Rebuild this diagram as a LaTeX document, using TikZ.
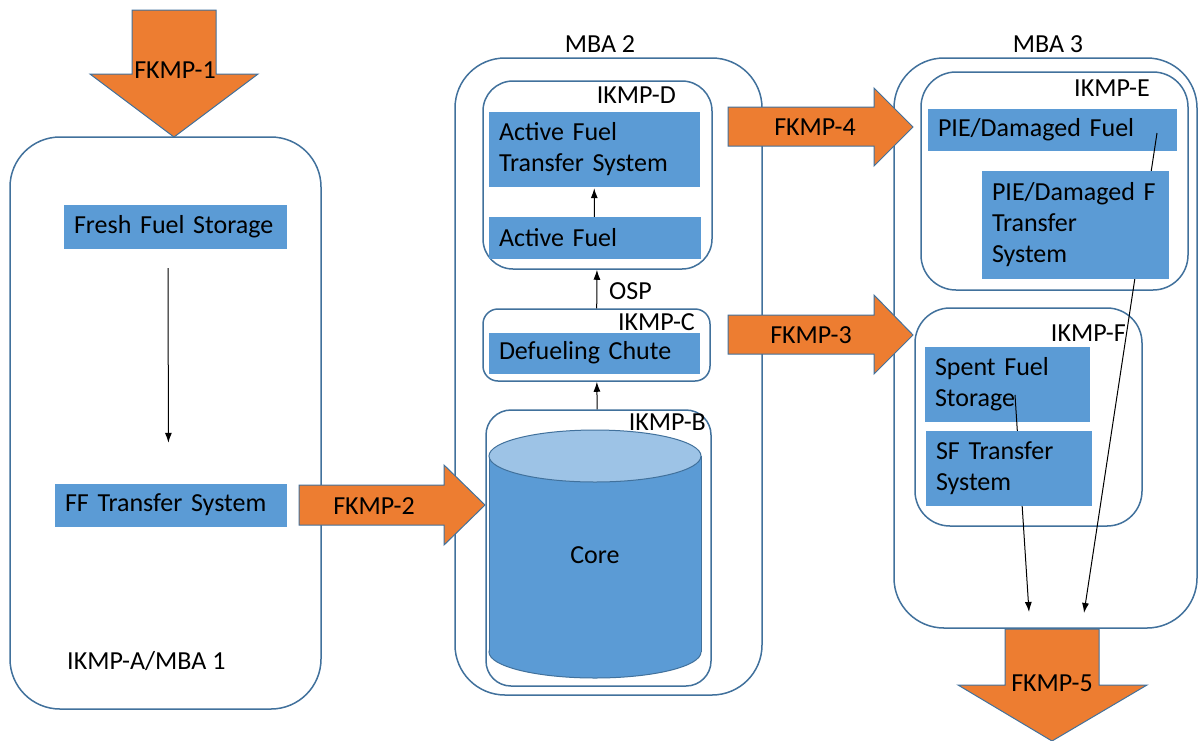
\documentclass[tikz,border=0pt]{standalone}
\usepackage{fontspec}
\setmainfont{Carlito}
\usetikzlibrary{arrows.meta}
\definecolor{boxblue}{HTML}{5B9BD5}
\definecolor{lineblue}{HTML}{41719C}
\definecolor{kmporange}{HTML}{ED7D31}
\definecolor{coretop}{HTML}{9DC3E6}

\begin{document}
\begin{tikzpicture}[x=1pt,y=-1pt,
  font=\fontsize{26}{31}\selectfont,
  zone/.style={draw=lineblue, line width=1.5pt, fill=white, rounded corners=#1},
  zone/.default=50pt,
  sysbox/.style={fill=boxblue, draw=boxblue, inner xsep=10pt, inner ysep=0pt, align=left},
  tag/.style={inner sep=0pt},
  flow/.style={-{Latex[length=10pt,width=7pt]}, line width=1pt},
  kmp/.style={fill=kmporange, draw=lineblue, line width=1pt}]
\path[use as bounding box, fill=white] (0,0) rectangle (1199,740);
% material balance areas
\node[zone, minimum width=311, minimum height=572] (mba1) at (165.5,423) {};
\node[zone, minimum width=307, minimum height=637] (mba2) at (608.5,376.5) {};
\node[zone, minimum width=303, minimum height=570] (mba3) at (1045.5,343) {};
\node[tag] (mba2lbl) at (600,44) {MBA 2};
\node[tag] (mba3lbl) at (1048,44) {MBA 3};
\node[tag, anchor=west] (mba1lbl) at (67,661) {IKMP-A/MBA 1};
% inner key measurement points
\node[zone=30pt, minimum width=229, minimum height=188] (ikmpd) at (597.5,175) {};
\node[zone=15pt, minimum width=227, minimum height=72] (ikmpc) at (596.5,345) {};
\node[zone=25pt, minimum width=225, minimum height=276] (ikmpb) at (598.5,548) {};
\node[zone=35pt, minimum width=267, minimum height=218] (ikmpe) at (1054.5,181) {};
\node[zone=35pt, minimum width=227, minimum height=218] (ikmpf) at (1028.5,417) {};
% core cylinder
\fill[boxblue, draw=lineblue, line width=1pt] (595,652) ellipse [x radius=106pt, y radius=26pt];
\fill[boxblue] (489,456) rectangle (701,652);
\draw[lineblue, line width=1pt] (489,456) -- (489,652) (701,456) -- (701,652);
\filldraw[fill=coretop, draw=lineblue, line width=1pt] (595,456) ellipse [x radius=106pt, y radius=26pt];
\node[tag] (core) at (595,555) {Core};
\node[tag, anchor=east] (ikmpdlbl) at (676,95) {IKMP-D};
\node[tag, anchor=east] (ikmpclbl) at (695,322) {IKMP-C};
\node[tag, anchor=east] (ikmpblbl) at (706,422) {IKMP-B};
\node[tag, anchor=east] (ikmpelbl) at (1150,88) {IKMP-E};
\node[tag, anchor=east] (ikmpflbl) at (1126,333) {IKMP-F};
% systems
\node[sysbox, text width=202, minimum height=43] (ffs) at (175,226.5) {Fresh Fuel Storage};
\node[sysbox, text width=211, minimum height=42] (fft) at (170.5,505) {FF Transfer System};
\node[sysbox, text width=190, minimum height=74] (aft) at (594,149) {Active Fuel\\Transfer System};
\node[sysbox, text width=191, minimum height=41] (af) at (594.5,237.5) {Active Fuel};
\node[sysbox, text width=190, minimum height=40] (dc) at (594,353) {Defueling Chute};
\node[sysbox, text width=228, minimum height=41] (pdf) at (1052,129.5) {PIE/Damaged Fuel};
% fuel leaving MBA 3
\coordinate (pdfout) at (1157,133);
\coordinate (exit5b) at (1084,613);
\draw[flow] (pdfout) -- (exit5b);
\node[sysbox, text width=166, minimum height=107] (pdft) at (1075,224.5) {PIE/Damaged F\\Transfer\\System};
\node[sysbox, text width=144, minimum height=74] (sfs) at (1007,384) {Spent Fuel\\Storage};
\coordinate (sfsout) at (1015,395);
\coordinate (exit5a) at (1029,612);
\draw[flow] (sfsout) -- (exit5a);
\node[sysbox, text width=145, minimum height=74] (sft) at (1008.5,468) {SF Transfer\\System};
% internal transfers
\draw[flow, shorten <=20pt, shorten >=41pt] ([xshift=-7pt]ffs.south) -- ([xshift=-2pt]fft.north);
\draw[flow, shorten >=2pt] (af) -- (aft);
\draw[flow] (ikmpc) -- (ikmpd);
\draw[flow] (ikmpb) -- (ikmpc);
\node[tag, anchor=west] (osp) at (609,291) {OSP};
% flow key measurement points
\filldraw[kmp] (132,10) -- (216,10) -- (216,74) -- (258,74) -- (174,137) -- (90,74) -- (132,74) -- cycle;
\node[tag] (fkmp1) at (175,70) {FKMP-1};
\filldraw[kmp] (299,485) -- (444,485) -- (444,465) -- (485,505) -- (444,545) -- (444,525) -- (299,525) -- cycle;
\node[tag] (fkmp2) at (374,506) {FKMP-2};
\filldraw[kmp] (728,107) -- (874,107) -- (874,88) -- (913,127) -- (874,166) -- (874,146) -- (728,146) -- cycle;
\node[tag] (fkmp4) at (815,127) {FKMP-4};
\filldraw[kmp] (728,315) -- (874,315) -- (874,295) -- (913,335) -- (874,374) -- (874,354) -- (728,354) -- cycle;
\node[tag] (fkmp3) at (811,335) {FKMP-3};
\filldraw[kmp] (1005,629) -- (1099,629) -- (1099,685) -- (1147,685) -- (1052,741) -- (958,685) -- (1005,685) -- cycle;
\node[tag] (fkmp5) at (1052,683) {FKMP-5};
\end{tikzpicture}
\end{document}
